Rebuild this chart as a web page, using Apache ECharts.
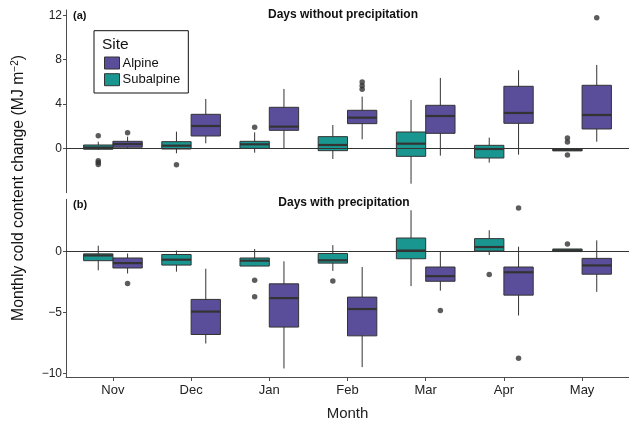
<!DOCTYPE html>
<html>
<head>
<meta charset="utf-8">
<script src="https://cdn.jsdelivr.net/npm/echarts@6/dist/echarts.min.js"></script>
<style>
  html, body { margin: 0; padding: 0; background: #fff; }
  #chart { width: 629px; height: 422px; }
</style>
</head>
<body>
<div id="chart"></div>
<script>
// months on the x axis
var months = ['Nov', 'Dec', 'Jan', 'Feb', 'Mar', 'Apr', 'May'];

// box stats per month: [lower whisker, Q1, median, Q3, upper whisker]
// (a) days without precipitation
var dryAlpine = [
    [0.0, 0.13, 0.42, 0.66, 1.08],
    [0.48, 1.14, 2.04, 3.09, 4.47],
    [0.0, 1.65, 1.98, 3.72, 5.37],
    [0.84, 2.25, 2.79, 3.45, 4.68],
    [-0.63, 1.38, 2.94, 3.9, 6.36],
    [-0.54, 2.28, 3.21, 5.61, 7.05],
    [0.63, 1.77, 3.03, 5.7, 7.53]
];
var drySubalpine = [
    [-0.1, -0.05, 0.1, 0.33, 0.63],
    [-0.41, -0.03, 0.27, 0.63, 1.53],
    [-0.36, 0.03, 0.39, 0.66, 1.47],
    [-0.93, -0.18, 0.33, 1.08, 2.13],
    [-3.15, -0.69, 0.45, 1.5, 4.38],
    [-1.26, -0.84, -0.03, 0.3, 0.99],
    [-0.2, -0.2, -0.1, 0.0, 0.0]
];
// outliers: [month index, value]
var dryAlpineOut = [[0, 1.44], [3, 5.35], [3, 5.65], [3, 6.0], [6, 11.78]];
var drySubalpineOut = [[0, 1.17], [0, -1.08], [0, -1.25], [0, -1.42], [1, -1.44], [2, 1.92],
    [6, 0.95], [6, 0.6], [6, -0.57]];

// (b) days with precipitation
var wetAlpine = [
    [-1.8, -1.35, -0.95, -0.53, -0.16],
    [-7.55, -6.81, -4.93, -3.93, -1.41],
    [-9.6, -6.2, -3.82, -2.65, -0.8],
    [-9.49, -6.92, -4.72, -3.74, -1.27],
    [-3.21, -2.44, -2.02, -1.27, 0.0],
    [-5.25, -3.58, -1.7, -1.27, 0.4],
    [-3.31, -1.86, -1.14, -0.56, 0.92]
];
var wetSubalpine = [
    [-1.54, -0.75, -0.32, -0.19, 0.48],
    [-1.65, -1.11, -0.67, -0.24, 0.08],
    [-1.2, -1.19, -0.75, -0.53, 0.21],
    [-1.59, -0.95, -0.72, -0.16, 0.53],
    [-2.84, -0.59, 0.08, 1.11, 3.39],
    [-0.29, 0.05, 0.37, 1.06, 1.75],
    [0.0, 0.0, 0.1, 0.21, 0.21]
];
var wetAlpineOut = [[0, -2.63], [4, -4.85], [5, 3.58], [5, -8.77]];
var wetSubalpineOut = [[2, -2.36], [2, -3.71], [3, -2.41], [5, -1.88], [6, 0.61]];

var topTicks = [0, 4, 8, 12];
var bottomTicks = [-10, -5, 0];

var alpineColor = '#5a4e9b';
var subalpineColor = '#1a9690';
var edge = '#333333';
var boxWidth = 0.375;

var chart = echarts.init(document.getElementById('chart'));

function boxData(stats, offset) {
    return stats.map(function (s, i) {
        return [i + offset].concat(s);
    });
}

function renderBox(params, api) {
    var x = api.value(0);
    var lo = api.coord([x, api.value(1)]);
    var q1 = api.coord([x, api.value(2)]);
    var med = api.coord([x, api.value(3)]);
    var q3 = api.coord([x, api.value(4)]);
    var hi = api.coord([x, api.value(5)]);
    var w = api.size([boxWidth, 0])[0];
    var fill = api.visual('color');
    return {
        type: 'group',
        children: [
            {type: 'line', shape: {x1: lo[0], y1: lo[1], x2: hi[0], y2: hi[1]},
                style: {stroke: edge, lineWidth: 1}},
            {type: 'rect', shape: {x: q3[0] - w / 2, y: q3[1], width: w, height: Math.max(q1[1] - q3[1], 1)},
                style: {fill: fill, stroke: edge, lineWidth: 1}},
            {type: 'line', shape: {x1: med[0] - w / 2, y1: med[1], x2: med[0] + w / 2, y2: med[1]},
                style: {stroke: edge, lineWidth: 2.2}}
        ]
    };
}

function boxSeries(name, stats, offset, color, idx) {
    return {
        name: name,
        type: 'custom',
        xAxisIndex: idx,
        yAxisIndex: idx,
        itemStyle: {color: color},
        renderItem: renderBox,
        encode: {x: 0, y: [1, 2, 3, 4, 5]},
        data: boxData(stats, offset)
    };
}

function outSeries(name, pts, offset, idx) {
    return {
        name: name,
        type: 'scatter',
        xAxisIndex: idx,
        yAxisIndex: idx,
        symbolSize: 5.5,
        itemStyle: {color: '#333'},
        z: 5,
        data: pts.map(function (p) { return [p[0] + offset, p[1]]; })
    };
}

function zeroLine(idx) {
    return {
        type: 'line',
        xAxisIndex: idx,
        yAxisIndex: idx,
        data: [],
        z: 6,
        markLine: {
            silent: true,
            symbol: 'none',
            label: {show: false},
            lineStyle: {color: '#333', width: 1, type: 'solid'},
            data: [{yAxis: 0}]
        }
    };
}

var axisLabelStyle = {color: '#222', fontSize: 12, fontFamily: 'Liberation Sans'};

var option = {
    animation: false,
    textStyle: {fontFamily: 'Liberation Sans'},
    grid: [
        {left: 66, top: 10, width: 564, height: 182.7},
        {left: 66, top: 199.3, width: 564, height: 183.4}
    ],
    xAxis: [
        {gridIndex: 0, type: 'value', min: -0.6, max: 6.6, show: false},
        {
            gridIndex: 1, type: 'value', min: -0.6, max: 6.6,
            splitLine: {show: false},
            axisLine: {onZero: false, lineStyle: {color: '#4d4d4d', width: 1}},
            axisTick: {customValues: [0, 1, 2, 3, 4, 5, 6], length: 4, lineStyle: {color: '#4d4d4d'}},
            axisLabel: Object.assign({
                customValues: [0, 1, 2, 3, 4, 5, 6],
                margin: 7,
                fontSize: 13,
                formatter: function (v) { return months[Math.round(v)]; }
            }, {color: '#222', fontFamily: 'Liberation Sans'}),
            name: 'Month',
            nameLocation: 'middle',
            nameGap: 29,
            nameTextStyle: {fontSize: 15, color: '#222'}
        }
    ],
    yAxis: [
        {
            gridIndex: 0, type: 'value', min: -3.96, max: 12.47,
            splitLine: {show: false},
            axisLine: {show: true, onZero: false, lineStyle: {color: '#4d4d4d', width: 1}},
            axisTick: {show: true, customValues: topTicks, length: 3, lineStyle: {color: '#4d4d4d'}},
            axisLabel: Object.assign({customValues: topTicks, margin: 4}, axisLabelStyle)
        },
        {
            gridIndex: 1, type: 'value', min: -10.3, max: 4.29,
            splitLine: {show: false},
            axisLine: {show: true, onZero: false, lineStyle: {color: '#4d4d4d', width: 1}},
            axisTick: {show: true, customValues: bottomTicks, length: 3, lineStyle: {color: '#4d4d4d'}},
            axisLabel: Object.assign({
                customValues: bottomTicks,
                margin: 4,
                formatter: function (v) { return v < 0 ? '\u2212' + (-v) : String(v); }
            }, axisLabelStyle)
        }
    ],
    legend: {
        left: 94,
        top: 30.7,
        orient: 'vertical',
        data: ['Alpine', 'Subalpine'],
        icon: 'rect',
        itemWidth: 15,
        itemHeight: 12,
        itemGap: 1.7,
        padding: [24.8, 8, 5.8, 10],
        borderColor: '#111',
        borderWidth: 1,
        itemStyle: {borderColor: edge, borderWidth: 1},
        textStyle: {fontSize: 13, color: '#111', padding: [0, 0, 0, -2], lineHeight: 15}
    },
    graphic: [
        {type: 'text', left: 102, top: 36.5, style: {text: 'Site', fontSize: 15.5, fill: '#111', fontFamily: 'Liberation Sans'}},
        {type: 'text', left: 73, top: 10, style: {text: '(a)', fontSize: 11, fontWeight: 'bold', fill: '#111', fontFamily: 'Liberation Sans'}},
        {type: 'text', left: 73, top: 199, style: {text: '(b)', fontSize: 11, fontWeight: 'bold', fill: '#111', fontFamily: 'Liberation Sans'}},
        {type: 'text', x: 343, y: 15, style: {text: 'Days without precipitation', fontSize: 12, fontWeight: 'bold', fill: '#111', align: 'center', verticalAlign: 'middle', fontFamily: 'Liberation Sans'}},
        {type: 'text', x: 344, y: 203, style: {text: 'Days with precipitation', fontSize: 12, fontWeight: 'bold', fill: '#111', align: 'center', verticalAlign: 'middle', fontFamily: 'Liberation Sans'}},
        {
            type: 'text', x: 19, y: 188, rotation: Math.PI / 2,
            style: {
                text: '{a|Monthly cold content change (MJ m}{s|\u22122}{a|)}',
                align: 'center', verticalAlign: 'middle',
                rich: {
                    a: {fontSize: 15.8, fill: '#111', fontFamily: 'Liberation Sans', lineHeight: 18},
                    s: {fontSize: 10, fill: '#111', fontFamily: 'Liberation Sans', verticalAlign: 'top', lineHeight: 18, padding: [0, 0, 6, 0]}
                }
            }
        }
    ],
    series: [
        boxSeries('Alpine', dryAlpine, 0.1875, alpineColor, 0),
        boxSeries('Subalpine', drySubalpine, -0.1875, subalpineColor, 0),
        boxSeries('Alpine', wetAlpine, 0.1875, alpineColor, 1),
        boxSeries('Subalpine', wetSubalpine, -0.1875, subalpineColor, 1),
        outSeries('Alpine out', dryAlpineOut, 0.1875, 0),
        outSeries('Subalpine out', drySubalpineOut, -0.1875, 0),
        outSeries('Alpine out', wetAlpineOut, 0.1875, 1),
        outSeries('Subalpine out', wetSubalpineOut, -0.1875, 1),
        zeroLine(0),
        zeroLine(1)
    ]
};
chart.setOption(option);
</script>
</body>
</html>
